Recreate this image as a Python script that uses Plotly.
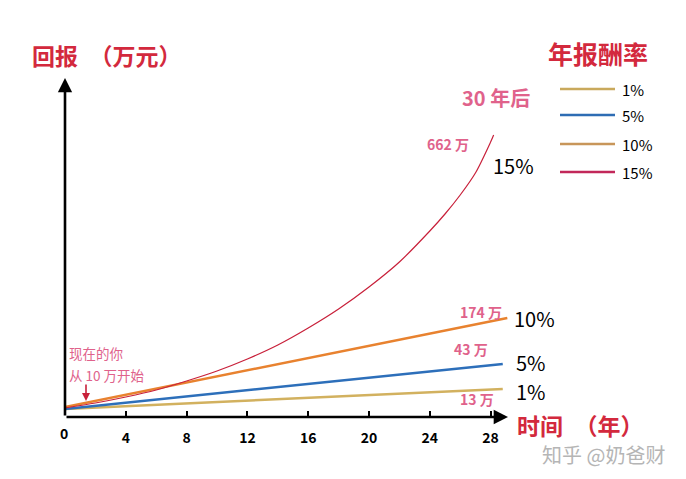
import plotly.graph_objects as go

# ---- data (y in display units of the illustration) ----
rates = ["1%", "5%", "10%", "15%"]
final_labels = ["13 万", "43 万", "174 万", "662 万"]

x_1 = [0, 28.8]
y_1 = [8, 28]
x_5 = [0, 28.8]
y_5 = [8, 53]
x_10 = [0, 29.1]
y_10 = [10, 99]
x_15 = [0, 2, 4, 6, 8, 10, 12, 14, 16, 18, 20, 22, 24, 25, 26, 27, 28, 28.2]
y_15 = [9, 14, 20, 27, 36, 46, 58, 72, 89, 108, 130, 155, 186, 203, 222, 244, 275, 282]

x_ticks = [0, 4, 8, 12, 16, 20, 24, 28]
x_tick_text = ["", "4", "8", "12", "16", "20", "24", "28"]

line_colors = ["#d2b15f", "#2d6fba", "#e8822f", "#c8203a"]
line_widths = [2.5, 2.5, 2.5, 1.2]
legend_colors = ["#c9a95c", "#2e6db4", "#c8965a", "#c2285a"]

# ---- geometry ----
W, H = 686, 479
L, R, T, B = 65, 178, 78, 62
PW, PH = W - L - R, H - T - B
XMAX = PW / 15.2
YMAX = PH


def px(x):
    return (x - L) / PW


def py(y):
    return (H - B - y) / PH


fig = go.Figure()
series = [(x_1, y_1), (x_5, y_5), (x_10, y_10), (x_15, y_15)]
for (xs, ys), c, w, name in zip(series, line_colors, line_widths, rates):
    fig.add_trace(go.Scatter(x=xs, y=ys, mode="lines", name=name,
                             line=dict(color=c, width=w, shape="spline", smoothing=0.8),
                             showlegend=False, hoverinfo="skip"))

CJK = "Noto Sans CJK SC"
RED = "#d3293d"
PINK = "#e0628b"
ann = []
# axes arrows
ann.append(dict(x=XMAX, y=0, ax=0, ay=0, xref="x", yref="y", axref="x", ayref="y",
                showarrow=True, arrowhead=2, arrowsize=1.1, arrowwidth=2.6,
                arrowcolor="black", text=""))
ann.append(dict(x=0, y=YMAX, ax=0, ay=0, xref="x", yref="y", axref="x", ayref="y",
                showarrow=True, arrowhead=2, arrowsize=1.1, arrowwidth=2.6,
                arrowcolor="black", text=""))


def text(s, x, y, size, color, bold=True, xanchor="left", family=CJK):
    t = f"<b>{s}</b>" if bold else s
    ann.append(dict(text=t, x=px(x), y=py(y), xref="paper", yref="paper",
                    xanchor=xanchor, yanchor="middle", showarrow=False,
                    font=dict(family=family, size=size, color=color)))


text("回报　（万元）", 30, 55, 23, RED)
text("时间　（年）", 515, 425, 23, RED)
text("年报酬率", 546, 53, 25, RED)
text("30 年后", 460, 97, 20, PINK)
text("662 万", 425, 144, 14, PINK)
text("174 万", 458, 312, 14, PINK)
text("43 万", 452, 349, 14, PINK)
text("13 万", 458, 399, 14, PINK)
text("15%", 491, 165, 20, "black", bold=False)
text("10%", 512, 318, 20, "black", bold=False)
text("5%", 514, 362, 20, "black", bold=False)
text("1%", 514, 391, 20, "black", bold=False)
text("现在的你", 67, 353, 13.5, PINK, bold=False)
text("从 10 万开始", 67, 375, 13.5, PINK, bold=False)
text("知乎 @奶爸财", 540, 454, 20, "#b5b5b5", bold=False)
text("0", 64, 433, 14, "black", xanchor="center")

# small red arrow
ann.append(dict(x=px(86), y=py(401), ax=0, ay=-18, xref="paper", yref="paper",
                axref="pixel", ayref="pixel", showarrow=True, arrowhead=2,
                arrowsize=1, arrowwidth=1.6, arrowcolor="#c8203a", text=""))

# custom legend
legend_y = [89, 115, 144, 172]
shapes = []
for r, c, yy in zip(rates, legend_colors, legend_y):
    shapes.append(dict(type="line", xref="paper", yref="paper",
                       x0=px(560), x1=px(615), y0=py(yy), y1=py(yy),
                       line=dict(color=c, width=2.5)))
    text(r, 620, yy, 15, "black", bold=False)

fig.update_layout(
    width=W, height=H,
    margin=dict(l=L, r=R, t=T, b=B),
    paper_bgcolor="white", plot_bgcolor="white",
    annotations=ann, shapes=shapes,
    xaxis=dict(range=[0, XMAX], tickvals=x_ticks, ticktext=x_tick_text,
               ticks="inside", ticklen=6,
               tickwidth=2, tickcolor="black", showgrid=False, zeroline=False,
               showline=False, ticklabelstandoff=11,
               tickfont=dict(family=CJK, size=14, color="black", weight="bold")),
    yaxis=dict(range=[0, YMAX], showticklabels=False, ticks="", showgrid=False,
               zeroline=False, showline=False),
)

fig.write_html("out.html", config={"displayModeBar": False},
               post_script="document.body.style.margin='0';document.body.style.overflow='hidden';")
